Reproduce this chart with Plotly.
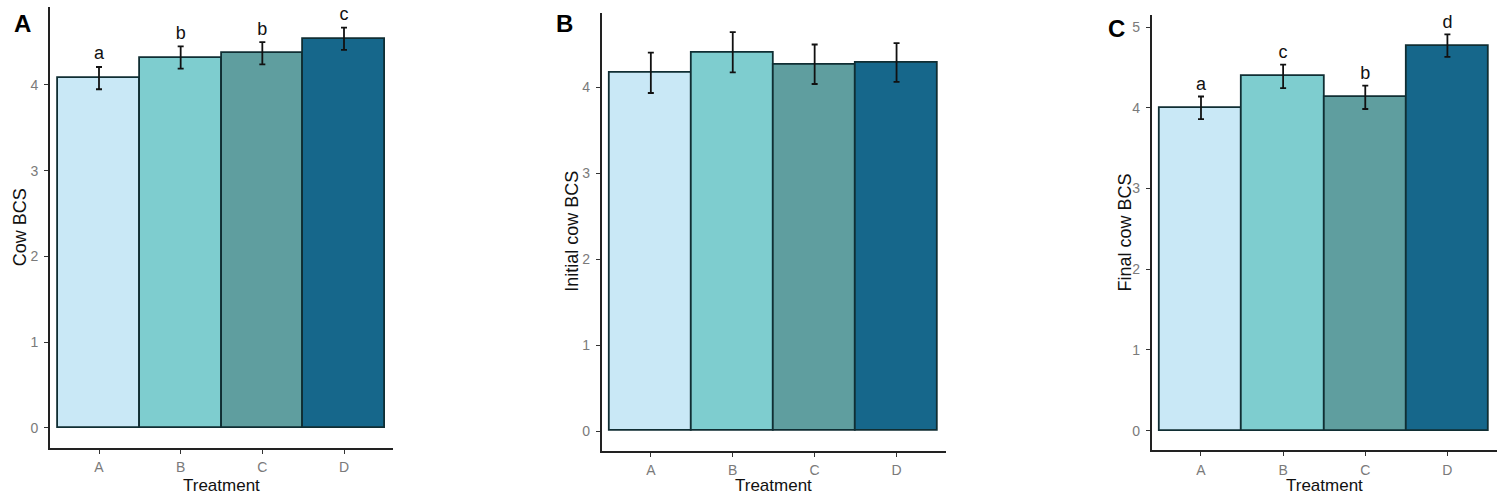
import plotly.graph_objects as go

W, H = 1506, 503

treatments = ["A", "B", "C", "D"]
colors = ["#c9e8f6", "#7ecdcf", "#5f9e9f", "#16678b"]

# Panel A: Cow BCS
cow_mean = [4.08, 4.32, 4.37, 4.54]
cow_se = [0.13, 0.13, 0.13, 0.13]
cow_letters = ["a", "b", "b", "c"]

# Panel B: Initial cow BCS
init_mean = [4.17, 4.41, 4.27, 4.29]
init_se = [0.235, 0.235, 0.23, 0.225]

# Panel C: Final cow BCS
final_mean = [4.00, 4.39, 4.13, 4.77]
final_se = [0.14, 0.145, 0.145, 0.14]
final_letters = ["a", "c", "b", "d"]

panels = [
    dict(mean=cow_mean, se=cow_se, letters=cow_letters, ytitle="Cow BCS",
         px=(50, 393), py=(7, 447.7), yr=(-0.233, 4.91), tickv=[0, 1, 2, 3, 4],
         tag="A", tagxy=(22, 24), ytx=20),
    dict(mean=init_mean, se=init_se, letters=None, ytitle="Initial cow BCS",
         px=(601.7, 945.7), py=(12.7, 450.7), yr=(-0.229, 4.87), tickv=[0, 1, 2, 3, 4],
         tag="B", tagxy=(564, 23), ytx=572),
    dict(mean=final_mean, se=final_se, letters=final_letters, ytitle="Final cow BCS",
         px=(1151.7, 1496.7), py=(15, 450), yr=(-0.24, 5.15), tickv=[0, 1, 2, 3, 4, 5],
         tag="C", tagxy=(1116, 29), ytx=1124),
]


def fx(p):
    return p / W


def fy(p):
    return 1 - p / H


fig = go.Figure()
annotations = []
layout_axes = {}

for i, pn in enumerate(panels):
    n = i + 1
    xa = "x" if n == 1 else f"x{n}"
    ya = "y" if n == 1 else f"y{n}"
    fig.add_trace(go.Bar(
        x=treatments, y=pn["mean"], xaxis=xa, yaxis=ya, width=1.0,
        marker=dict(color=colors, line=dict(color="#102e33", width=1.8)),
        error_y=dict(type="data", array=pn["se"], color="#111111", thickness=1.8, width=3),
        showlegend=False, hoverinfo="skip",
    ))
    if pn["letters"]:
        fig.add_trace(go.Scatter(
            x=treatments, y=[m + s + 0.14 for m, s in zip(pn["mean"], pn["se"])],
            text=pn["letters"], mode="text", textposition="middle center",
            textfont=dict(family="Liberation Sans, Arial", size=18, color="#111111"),
            xaxis=xa, yaxis=ya, showlegend=False, hoverinfo="skip", cliponaxis=False,
        ))
    xkey = "xaxis" if n == 1 else f"xaxis{n}"
    ykey = "yaxis" if n == 1 else f"yaxis{n}"
    layout_axes[xkey] = dict(
        domain=[fx(pn["px"][0]), fx(pn["px"][1])], range=[-0.6, 3.6],
        anchor=ya, showline=True, linecolor="#222222", linewidth=1.8,
        ticks="outside", ticklen=4, tickwidth=1.3, tickcolor="#333333",
        tickfont=dict(family="Liberation Sans, Arial", size=14, color="#7a7a7a"),
        showgrid=False, zeroline=False, fixedrange=True, type="category",
        ticklabelstandoff=2,
    )
    layout_axes[ykey] = dict(
        domain=[fy(pn["py"][1]), fy(pn["py"][0])], range=list(pn["yr"]),
        anchor=xa, showline=True, linecolor="#222222", linewidth=1.8,
        ticks="outside", ticklen=4, tickwidth=1.3, tickcolor="#333333",
        tickvals=pn["tickv"],
        tickfont=dict(family="Liberation Sans, Arial", size=14, color="#7a7a7a"),
        showgrid=False, zeroline=False, fixedrange=True, ticklabelstandoff=3,
    )
    # panel tag
    annotations.append(dict(
        text="<b>%s</b>" % pn["tag"], x=fx(pn["tagxy"][0]), y=fy(pn["tagxy"][1]),
        xref="paper", yref="paper", showarrow=False, xanchor="center", yanchor="middle",
        font=dict(family="Liberation Sans, Arial", size=24, color="#000000"),
    ))
    # y title
    annotations.append(dict(
        text=pn["ytitle"], x=fx(pn["ytx"]), y=fy((pn["py"][0] + pn["py"][1]) / 2),
        xref="paper", yref="paper", showarrow=False, textangle=-90,
        xanchor="center", yanchor="middle",
        font=dict(family="Liberation Sans, Arial", size=18, color="#111111"),
    ))
    # x title
    annotations.append(dict(
        text="Treatment", x=fx((pn["px"][0] + pn["px"][1]) / 2), y=fy(485),
        xref="paper", yref="paper", showarrow=False,
        xanchor="center", yanchor="middle",
        font=dict(family="Liberation Sans, Arial", size=17, color="#111111"),
    ))

fig.update_layout(
    width=W, height=H, margin=dict(l=0, r=0, t=0, b=0),
    paper_bgcolor="white", plot_bgcolor="white",
    annotations=annotations, bargap=0, **layout_axes,
)

fig.write_html(
    "out.html",
    config={"displayModeBar": False},
    post_script="document.body.style.margin='0';document.body.style.overflow='hidden';",
)
